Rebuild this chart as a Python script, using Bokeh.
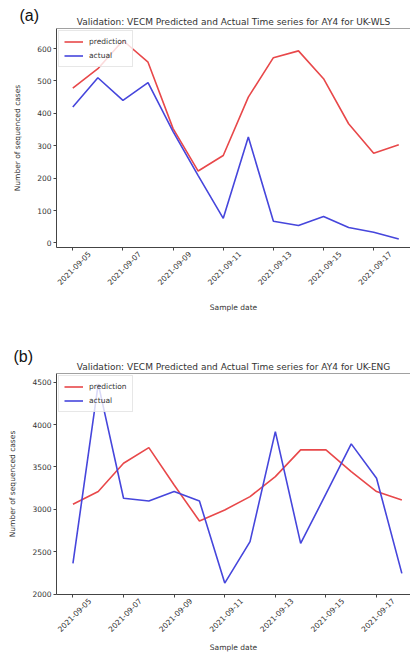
import pandas as pd
from math import pi
from bokeh.plotting import figure
from bokeh.layouts import column
from bokeh.models import (FixedTicker, DatetimeTickFormatter, Span, Range1d, Title)
from bokeh.embed import file_html
from bokeh.resources import INLINE

# ---------------- data ----------------
dates = pd.date_range("2021-09-05", "2021-09-18", freq="D")
tick_dates = pd.date_range("2021-09-05", "2021-09-17", freq="2D")

pred_wls = [478, 538, 625, 558, 353, 222, 270, 450, 572, 593, 507, 368, 277, 303]
actual_wls = [420, 510, 440, 495, 344, 208, 76, 327, 67, 54, 82, 48, 33, 12]
yticks_wls = [0, 100, 200, 300, 400, 500, 600]

pred_eng = [3059, 3209, 3543, 3728, 3287, 2862, 2992, 3150, 3386, 3701, 3701, 3445, 3209, 3110]
actual_eng = [2362, 4480, 3130, 3098, 3209, 3098, 2130, 2618, 3917, 2598, 3181, 3772, 3366, 2244]
yticks_eng = [2000, 2500, 3000, 3500, 4000, 4500]

title_wls = "Validation: VECM Predicted and Actual Time series for AY4 for UK-WLS"
title_eng = "Validation: VECM Predicted and Actual Time series for AY4 for UK-ENG"

RED = "#e8484a"
BLUE = "#4646dc"
TXT = "#333333"
AXC = "#444444"
FONT = "DejaVu Sans"
FMT = "%Y-%m-%d"
DAY = pd.Timedelta(days=1)


def style_axis(ax):
    ax.axis_line_color = AXC
    ax.axis_line_width = 1
    ax.major_tick_line_color = AXC
    ax.major_tick_in = 0
    ax.major_tick_out = 3
    ax.minor_tick_line_color = None
    ax.major_label_text_font = FONT
    ax.major_label_text_font_size = "7.5px"
    ax.major_label_text_color = TXT
    ax.major_label_standoff = 2
    ax.axis_label_text_font = FONT
    ax.axis_label_text_font_size = "7.5px"
    ax.axis_label_text_font_style = "normal"
    ax.axis_label_text_color = TXT


def panel(tag, title, pred, actual, yticks, yrange, left, top, bottom, height,
          px_per_day, tag_offset, tag_standoff, xlabel_standoff):
    x0 = pd.Timestamp("2021-09-05") - 0.65 * DAY
    x1 = x0 + (410 - left) / px_per_day * DAY
    p = figure(width=410, height=height, x_axis_type="datetime", title=None,
               output_backend="svg", toolbar_location=None,
               x_range=Range1d(x0, x1), y_range=Range1d(*yrange),
               min_border_left=left, min_border_right=0,
               min_border_top=top, min_border_bottom=bottom)
    p.outline_line_color = None
    p.xgrid.grid_line_color = None
    p.ygrid.grid_line_color = None

    p.add_layout(Title(text=title, text_font=FONT, text_font_size="9px",
                       text_font_style="normal", text_color=TXT, align="center",
                       standoff=3), "above")
    p.add_layout(Title(text=tag, text_font="Liberation Sans", text_font_size="16px",
                       text_font_style="normal", text_color="#111111", align="left",
                       offset=tag_offset, standoff=tag_standoff), "above")

    p.line(dates, pred, color=RED, line_width=1.6, legend_label="prediction")
    p.line(dates, actual, color=BLUE, line_width=1.6, legend_label="actual")

    # x axis: tick marks at the dates (minor ticks), labels centred under them the
    # way matplotlib centres its rotated labels (label anchor moved half a label right)
    shift = 0.66 * DAY
    xa = p.xaxis[0]
    style_axis(xa)
    xa.ticker = FixedTicker(ticks=[(d + shift).value / 1e6 for d in tick_dates],
                            minor_ticks=[d.value / 1e6 for d in tick_dates])
    xa.formatter = DatetimeTickFormatter(days=FMT, months=FMT, years=FMT,
                                         hours=FMT, minutes=FMT)
    xa.major_label_orientation = pi / 4
    xa.major_tick_line_color = None
    xa.major_tick_out = 3
    xa.minor_tick_line_color = AXC
    xa.minor_tick_in = 0
    xa.minor_tick_out = 3
    xa.axis_label = "Sample date"
    xa.axis_label_standoff = xlabel_standoff

    ya = p.yaxis[0]
    style_axis(ya)
    ya.ticker = FixedTicker(ticks=yticks)
    ya.axis_label = "Number of sequenced cases"
    ya.axis_label_standoff = 12

    p.add_layout(Span(location=yrange[1], dimension="width",
                      line_color=AXC, line_width=1))

    lg = p.legend[0]
    lg.location = "top_left"
    lg.margin = 2
    lg.padding = 5
    lg.spacing = 3
    lg.glyph_width = 19
    lg.glyph_height = 11
    lg.label_height = 11
    lg.label_standoff = 6
    lg.label_text_font = FONT
    lg.label_text_font_size = "7.5px"
    lg.label_text_color = TXT
    lg.border_line_color = "#d0d0d0"
    lg.background_fill_alpha = 0.8
    return p


p1 = panel("(a)", title_wls, pred_wls, actual_wls, yticks_wls, (-14, 662),
           50, 28, 80, 327, 25.5, -37, -20, 12)
p2 = panel("(b)", title_eng, pred_eng, actual_eng, yticks_eng, (1995, 4602),
           56, 46, 60, 327, 25.3, -43, -12, 5)

layout = column(p1, p2, spacing=0)
open("out.html", "w").write(file_html(layout, INLINE))
